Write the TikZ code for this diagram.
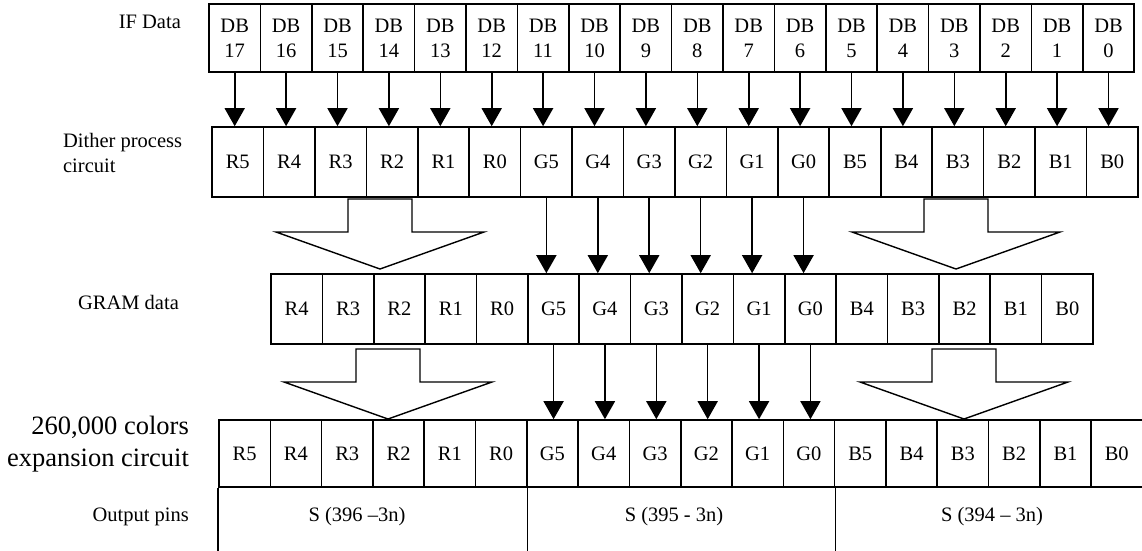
\documentclass[tikz,border=0pt]{standalone}
\usepackage{fontspec}
\setmainfont{Liberation Serif}
\usetikzlibrary{arrows.meta}
\tikzset{
  cell/.style={draw, inner sep=0pt, align=center},
  fatarrow/.style={line width=1.4pt, line join=miter}
}
\begin{document}
\begin{tikzpicture}[x=1pt,y=-1pt,>={Triangle[length=18pt,width=20pt]},
    line width=1.6pt, font=\fontsize{20.5}{25}\selectfont]
	\useasboundingbox[fill=white] (0,0) rectangle (1142,550);
	% rows of bits
	\foreach \t [count=\i] in {17,16,...,0}
		\node[cell, minimum width=51.4pt, minimum height=68pt] (if\i) at ({209+51.4*(\i-0.5)},38) {DB\\\t};
	\foreach \t [count=\i] in {R5,R4,R3,R2,R1,R0,G5,G4,G3,G2,G1,G0,B5,B4,B3,B2,B1,B0}
		\node[cell, minimum width=51.44pt, minimum height=70pt] (dp\i) at ({212+51.44*(\i-0.5)},162) {\t};
	\foreach \t [count=\i] in {R4,R3,R2,R1,R0,G5,G4,G3,G2,G1,G0,B4,B3,B2,B1,B0}
		\node[cell, minimum width=51.375pt, minimum height=70pt] (gr\i) at ({271+51.375*(\i-0.5)},309) {\t};
	\foreach \t [count=\i] in {R5,R4,R3,R2,R1,R0,G5,G4,G3,G2,G1,G0,B5,B4,B3,B2,B1,B0}
		\node[cell, minimum width=51.3pt, minimum height=67pt] (ex\i) at ({219+51.3*(\i-0.5)},453.5) {\t};
	% row labels
	\node[anchor=east] (ifl) at (185,22) {IF Data};
	\node[anchor=west, align=left] (dpl) at (59,152.5) {Dither process\\circuit};
	\node[anchor=east] (grl) at (183,302) {GRAM data};
	\node[anchor=east, align=right, font=\fontsize{26.5}{32}\selectfont] (exl) at (193,444) {260,000 colors\\expansion circuit};
	\node[anchor=east] (opl) at (193,517) {Output pins};
	% bit arrows
	\foreach \i in {1,...,18}
		\draw[->] (if\i.south) -- (if\i.south |- dp1.north);
	\foreach \i in {7,...,12}
		\draw[->] (dp\i.south) -- (dp\i.south |- gr1.north);
	\foreach \i in {6,...,11}
		\draw[->] (gr\i.south) -- (gr\i.south |- ex1.north);
	% expansion arrows
	\foreach \cx/\ty in {380/199, 956/199, 388/349, 964/349}
		\draw[fatarrow] (\cx-32,\ty) -- ++(64,0) -- ++(0,33) -- (\cx+104,\ty+33)
		-- (\cx,\ty+70) -- (\cx-104,\ty+33) -- (\cx-32,\ty+33) -- cycle;
	% output pins
	\draw (ex1.south west) -- ++(0,70);
	\draw (ex6.south east) -- ++(0,70);
	\draw (ex12.south east) -- ++(0,70);
	\node (op1) at (357,517) {S (396 –3n)};
	\node (op2) at (674,517) {S (395 - 3n)};
	\node (op3) at (992,517) {S (394 – 3n)};
\end{tikzpicture}
\end{document}
